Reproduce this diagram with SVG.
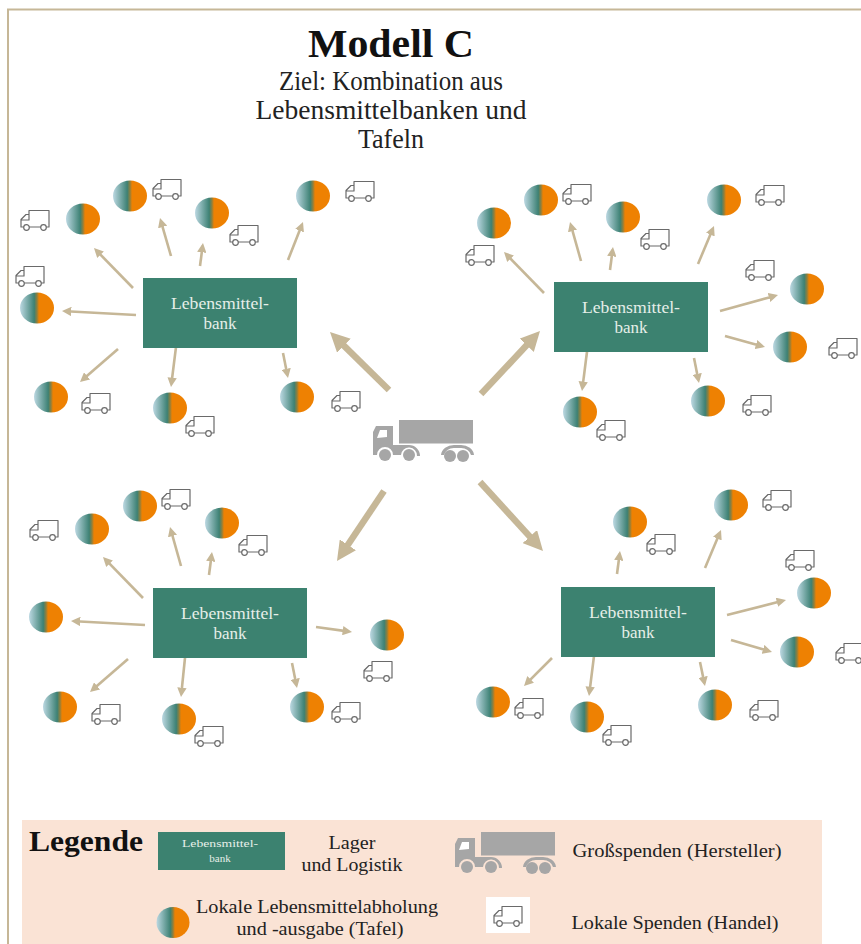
<svg xmlns="http://www.w3.org/2000/svg" width="861" height="944" viewBox="0 0 861 944">
<style>
text{font-family:"Liberation Serif","Times New Roman",serif;text-anchor:middle;fill:#222}
.bank{fill:#3c8270}
.bl{fill:#e6efe9;font-size:17px}
.bs{fill:#e6efe9;font-size:11px}
.thin{fill:none;stroke:#c6b797;stroke-width:2.6;stroke-dasharray:88 100}
.thick{fill:none;stroke:#c6b797;stroke-width:6.5;stroke-dasharray:86 100}
.van{fill:#fff;stroke:#6a6a6a;stroke-width:1.2;stroke-linejoin:round}
.leg{font-size:19px}
.sub{font-size:27px}
</style>
<defs>
<linearGradient id="tg" x1="0" x2="1" y1="0" y2="0">
<stop offset="0" stop-color="#bcd8e2"/><stop offset=".42" stop-color="#3d8174"/><stop offset=".5" stop-color="#8f7f3c"/><stop offset=".56" stop-color="#ee8102"/><stop offset="1" stop-color="#ee8102"/>
</linearGradient>
<marker id="ah" viewBox="0 0 10 10" refX="10" refY="5" markerWidth="3.6" markerHeight="3.6" orient="auto"><path d="M0,0L10,5L0,10Z" fill="#c6b797"/></marker>
<marker id="AH" viewBox="0 0 10 10" refX="10" refY="5" markerWidth="3" markerHeight="3" orient="auto"><path d="M0,0L10,5L0,10Z" fill="#c6b797"/></marker>
<g id="tafel"><ellipse rx="17" ry="15.5" fill="url(#tg)"/></g>
<g id="van">
<path class="van" d="M-6,-9.5H14V7H-14V-0.5L-9,-5.5H-6ZM-13.5,0H-6V-9.5"/>
<circle class="van" cx="-8.5" cy="7.5" r="2.8"/><circle class="van" cx="8.5" cy="7.5" r="2.8"/>
</g>
<g id="truck" fill="#a6a6a6">
<rect x="26" y="0" width="74" height="23.5"/>
<path d="M0,35V12L3,6H20V25H36A11,11 0 0 1 47,36H44A8,8 0 0 0 28,35H20A8,8 0 0 0 4,35Z"/>
<path d="M4,18L7,10H14V17Z" fill="#fff"/>
<path d="M68,35A13,11 0 0 1 81,25H88A13,11 0 0 1 101,35H98A10,8.5 0 0 0 88,28H81A10,8.5 0 0 0 71,35Z"/>
<circle cx="12" cy="35" r="6"/><circle cx="36" cy="35" r="6"/><circle cx="77" cy="36" r="6"/><circle cx="90" cy="36" r="6"/>
</g>
</defs>
<rect width="861" height="944" fill="#fff"/>
<path d="M8,944V9.5H861" fill="none" stroke="#c6b797" stroke-width="2"/>

<g id="title">
<text x="391" y="57" font-size="40" font-weight="bold" style="fill:#111" textLength="166" lengthAdjust="spacingAndGlyphs">Modell C</text>
<text class="sub" x="391" y="90" textLength="224" lengthAdjust="spacingAndGlyphs">Ziel: Kombination aus</text>
<text class="sub" x="391" y="119" textLength="271" lengthAdjust="spacingAndGlyphs">Lebensmittelbanken und</text>
<text class="sub" x="391" y="148" textLength="66" lengthAdjust="spacingAndGlyphs">Tafeln</text>
</g>

<g id="connectors">
<g class="thin" marker-end="url(#ah)">
<path pathLength="100" d="M133,288L94,248"/><path pathLength="100" d="M171,256L160,218"/><path pathLength="100" d="M200,266L203,243"/><path pathLength="100" d="M288,260L303,222"/><path pathLength="100" d="M136,315L62,311"/><path pathLength="100" d="M118,349L80,382"/><path pathLength="100" d="M177,339L171,387"/><path pathLength="100" d="M283,353L288,378"/>
<path pathLength="100" d="M544,293L504,252"/><path pathLength="100" d="M581,261L570,222"/><path pathLength="100" d="M610,270L613,247"/><path pathLength="100" d="M698,264L714,226"/><path pathLength="100" d="M720,311L778,295"/><path pathLength="100" d="M725,336L765,347"/><path pathLength="100" d="M588,344L582,391"/><path pathLength="100" d="M694,358L699,383"/>
<path pathLength="100" d="M143,598L103,557"/><path pathLength="100" d="M181,566L170,527"/><path pathLength="100" d="M209,575L212,552"/><path pathLength="100" d="M145,625L71,621"/><path pathLength="100" d="M316,627L352,632"/><path pathLength="100" d="M128,659L90,692"/><path pathLength="100" d="M186,648L181,697"/><path pathLength="100" d="M292,663L297,688"/>
<path pathLength="100" d="M617,574L620,551"/><path pathLength="100" d="M705,568L721,530"/><path pathLength="100" d="M727,615L786,600"/><path pathLength="100" d="M731,640L772,652"/><path pathLength="100" d="M552,658L524,686"/><path pathLength="100" d="M595,648L589,696"/><path pathLength="100" d="M700,662L705,686"/>
</g>
<g class="thick" marker-end="url(#AH)">
<path pathLength="100" d="M389,390L330,332"/>
<path pathLength="100" d="M481,394L540,331"/>
<path pathLength="100" d="M384,491L337,561"/>
<path pathLength="100" d="M480,482L543,551"/>
</g>
</g>

<g id="bank1"><rect class="bank" x="143" y="278" width="154" height="70"/><text class="bl" x="220" y="309" textLength="98" lengthAdjust="spacingAndGlyphs">Lebensmittel-</text><text class="bl" x="220" y="329">bank</text></g>
<g id="bank2"><rect class="bank" x="554" y="282" width="154" height="70"/><text class="bl" x="631" y="313" textLength="98" lengthAdjust="spacingAndGlyphs">Lebensmittel-</text><text class="bl" x="631" y="333">bank</text></g>
<g id="bank3"><rect class="bank" x="153" y="588" width="154" height="70"/><text class="bl" x="230" y="619" textLength="98" lengthAdjust="spacingAndGlyphs">Lebensmittel-</text><text class="bl" x="230" y="639">bank</text></g>
<g id="bank4"><rect class="bank" x="561" y="587" width="154" height="70"/><text class="bl" x="638" y="618" textLength="98" lengthAdjust="spacingAndGlyphs">Lebensmittel-</text><text class="bl" x="638" y="638">bank</text></g>

<g id="tafeln">
<use href="#tafel" x="83" y="219"/><use href="#tafel" x="130" y="196"/><use href="#tafel" x="212" y="213"/><use href="#tafel" x="313" y="196"/><use href="#tafel" x="37" y="308"/><use href="#tafel" x="51" y="397"/><use href="#tafel" x="170" y="408"/><use href="#tafel" x="297" y="397"/>
<use href="#tafel" x="494" y="223"/><use href="#tafel" x="541" y="200"/><use href="#tafel" x="623" y="217"/><use href="#tafel" x="724" y="200"/><use href="#tafel" x="807" y="289"/><use href="#tafel" x="790" y="347"/><use href="#tafel" x="580" y="412"/><use href="#tafel" x="708" y="401"/>
<use href="#tafel" x="92" y="529"/><use href="#tafel" x="140" y="506"/><use href="#tafel" x="222" y="523"/><use href="#tafel" x="46" y="617"/><use href="#tafel" x="387" y="635"/><use href="#tafel" x="60" y="707"/><use href="#tafel" x="179" y="719"/><use href="#tafel" x="307" y="707"/>
<use href="#tafel" x="630" y="522"/><use href="#tafel" x="731" y="505"/><use href="#tafel" x="814" y="593"/><use href="#tafel" x="797" y="652"/><use href="#tafel" x="493" y="702"/><use href="#tafel" x="587" y="717"/><use href="#tafel" x="715" y="705"/>
</g>
<g id="vans">
<use href="#van" x="35" y="220"/><use href="#van" x="167" y="189"/><use href="#van" x="244" y="235"/><use href="#van" x="360" y="191"/><use href="#van" x="30" y="276"/><use href="#van" x="96" y="403"/><use href="#van" x="200" y="426"/><use href="#van" x="346" y="401"/>
<use href="#van" x="480" y="255"/><use href="#van" x="577" y="194"/><use href="#van" x="655" y="239"/><use href="#van" x="770" y="195"/><use href="#van" x="760" y="270"/><use href="#van" x="843" y="348"/><use href="#van" x="611" y="430"/><use href="#van" x="757" y="405"/>
<use href="#van" x="44" y="530"/><use href="#van" x="176" y="499"/><use href="#van" x="253" y="545"/><use href="#van" x="378" y="671"/><use href="#van" x="106" y="714"/><use href="#van" x="209" y="736"/><use href="#van" x="346" y="712"/>
<use href="#van" x="661" y="544"/><use href="#van" x="777" y="500"/><use href="#van" x="800" y="560"/><use href="#van" x="850" y="653"/><use href="#van" x="529" y="708"/><use href="#van" x="617" y="735"/><use href="#van" x="764" y="710"/>
</g>
<g id="central-truck"><use href="#truck" x="373" y="420"/></g>

<g id="legend">
<rect x="22" y="820" width="800" height="124" fill="#fae3d5"/>
<text x="86" y="851" font-size="30" font-weight="bold" style="fill:#111" textLength="114" lengthAdjust="spacingAndGlyphs">Legende</text>
<rect class="bank" x="158" y="832" width="127" height="38"/>
<text class="bs" x="220" y="847" textLength="76" lengthAdjust="spacingAndGlyphs">Lebensmittel-</text>
<text class="bs" x="220" y="862">bank</text>
<text class="leg" x="352" y="849" textLength="47" lengthAdjust="spacingAndGlyphs">Lager</text>
<text class="leg" x="352" y="871" textLength="101" lengthAdjust="spacingAndGlyphs">und Logistik</text>
<use href="#truck" x="455" y="832"/>
<text class="leg" x="677" y="857" textLength="209" lengthAdjust="spacingAndGlyphs">Großspenden (Hersteller)</text>
<ellipse cx="173" cy="922.5" rx="16.5" ry="15.5" fill="url(#tg)"/>
<text class="leg" x="317" y="913" textLength="242" lengthAdjust="spacingAndGlyphs">Lokale Lebensmittelabholung</text>
<text class="leg" x="320" y="935" textLength="167" lengthAdjust="spacingAndGlyphs">und -ausgabe (Tafel)</text>
<rect x="486" y="897" width="44" height="36" fill="#fff"/>
<use href="#van" x="508" y="916"/>
<text class="leg" x="675" y="929" textLength="207" lengthAdjust="spacingAndGlyphs">Lokale Spenden (Handel)</text>
</g>
</svg>
